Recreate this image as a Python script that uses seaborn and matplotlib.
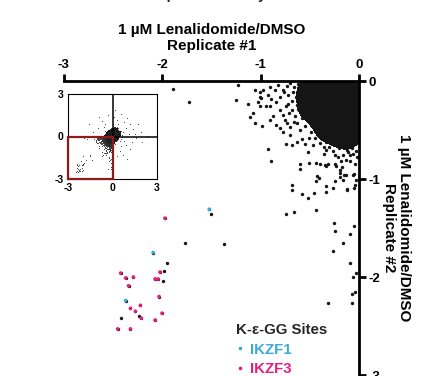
import numpy as np
import pandas as pd
import seaborn as sns
import matplotlib.pyplot as plt
from matplotlib.colors import ListedColormap
from matplotlib.patches import Rectangle

sns.set_theme(style="white")
plt.rcParams['font.family'] = ['Liberation Sans', 'DejaVu Sans']
plt.rcParams['font.weight'] = 'bold'
plt.rcParams['axes.unicode_minus'] = False

# log2 ratios (Lenalidomide/DMSO), replicate #1 vs replicate #2
core_sites = [
    (0.10, 0.12), (0.05, 0.18), (0.15, 0.05), (0.02, 0.08), (0.18, 0.20), (0.12, -0.02),
    (-0.03, 0.15), (0.22, 0.10), (0.08, 0.26), (0.00, -0.04), (0.25, 0.02), (-0.06, 0.02),
    (0.14, 0.30), (0.30, 0.18), (-0.08, 0.22), (0.04, -0.10), (0.20, -0.08), (-0.12, 0.10),
    (0.28, 0.28), (-0.02, 0.30), (0.10, -0.14), (-0.14, -0.04), (0.32, 0.06), (0.06, 0.36),
    (-0.10, -0.10), (0.18, 0.38), (0.36, 0.22), (-0.18, 0.18), (0.24, -0.16), (-0.04, -0.18),
    (-0.20, -0.12), (-0.16, -0.22), (-0.24, -0.02), (-0.08, -0.26), (-0.28, 0.08), (0.02, -0.30),
    (-0.26, -0.24), (-0.32, -0.10), (-0.12, -0.34), (-0.30, 0.22), (0.14, -0.32), (0.40, -0.02),
    (0.42, 0.30), (0.30, 0.42), (0.04, 0.46), (-0.14, 0.38), (-0.22, 0.32), (0.46, 0.12),
    (0.34, -0.20), (0.22, 0.50), (-0.36, -0.18), (-0.20, -0.36), (-0.38, 0.02), (-0.04, -0.40),
    (0.50, 0.22), (0.12, 0.54), (-0.30, -0.32), (-0.40, -0.08), (-0.10, -0.44), (0.26, -0.30),
    (-0.44, -0.22), (-0.26, -0.44), (-0.46, -0.02), (-0.02, -0.50), (-0.36, -0.38), (-0.48, -0.14),
    (-0.16, -0.52), (-0.42, -0.30), (-0.30, -0.50), (-0.52, -0.06), (-0.08, -0.56), (-0.50, -0.26),
    (-0.20, -0.58), (-0.40, -0.46), (-0.56, -0.18), (-0.12, -0.62), (-0.58, -0.04), (-0.34, -0.56),
    (-0.04, -0.64), (-0.54, -0.34), (0.56, 0.40), (0.62, 0.10), (0.40, 0.58), (-0.36, 0.42),
    (-0.44, 0.18), (0.60, -0.18), (0.10, 0.66), (-0.20, 0.54), (0.48, -0.34), (0.70, 0.30),
    (0.32, 0.70), (-0.48, 0.36), (0.20, -0.50), (0.66, -0.04), (-0.10, 0.60),
]

halo_sites = [
    (-0.62, -0.03), (-0.66, -0.06), (-0.60, -0.10), (-0.70, -0.02), (-0.56, -0.13), (-0.64, -0.16),
    (-0.59, -0.21), (-0.68, -0.20), (-0.55, -0.27), (-0.62, -0.29), (-0.52, -0.33), (-0.58, -0.38),
    (-0.50, -0.41), (-0.55, -0.46), (-0.46, -0.47), (-0.49, -0.52), (-0.42, -0.53), (-0.45, -0.58),
    (-0.37, -0.58), (-0.40, -0.63), (-0.33, -0.62), (-0.28, -0.60), (-0.30, -0.67), (-0.24, -0.64),
    (-0.20, -0.68), (-0.15, -0.66), (-0.12, -0.70), (-0.07, -0.68), (-0.03, -0.71), (-0.09, -0.75),
    (-0.26, -0.71), (-0.36, -0.67), (-0.51, -0.58), (-0.60, -0.50), (-0.66, -0.42), (-0.71, -0.33),
    (-0.74, -0.25), (-0.76, -0.11), (-0.73, -0.05), (-0.67, -0.11), (-0.63, -0.24), (-0.57, -0.05),
    (-0.53, -0.19), (-0.47, -0.37), (-0.44, -0.43), (-0.34, -0.52), (-0.22, -0.56), (-0.01, -0.60),
    (-0.06, -0.62), (-0.18, -0.63),
]

fringe_sites = [
    (-0.60, -0.85), (-0.60, -0.90), (-0.51, -0.84), (-0.44, -0.84), (-0.40, -0.85), (-0.35, -0.86),
    (-0.33, -0.87), (-0.31, -0.85), (-0.24, -0.85), (-0.17, -0.88), (-0.13, -0.81), (-0.09, -0.82),
    (-0.04, -0.85), (-0.43, -0.97), (-0.41, -0.99), (-0.44, -1.02), (-0.26, -1.09), (-0.24, -1.02),
    (-0.19, -0.98), (-0.16, -1.01), (-0.13, -0.96), (-0.05, -0.95), (-0.03, -1.01), (-0.05, -1.09),
    (-0.12, -1.10), (-0.19, -0.91), (-0.23, -0.87), (-0.36, -0.74), (-0.33, -0.70), (-0.24, -0.76),
    (-0.21, -0.78), (-0.16, -0.76), (-0.11, -0.72), (-0.06, -0.74), (-0.02, -0.78), (-0.52, -0.72),
    (-0.47, -0.65), (-0.55, -0.64), (-0.58, -0.59), (-0.63, -0.62), (-0.68, -0.65), (-0.74, -0.64),
    (-0.70, -0.55), (-0.77, -0.52), (-0.84, -0.45), (-0.80, -0.48), (-0.73, -0.43), (-0.90, -0.06),
    (-0.85, -0.09), (-0.92, -0.14), (-0.89, -0.18), (-0.84, -0.21), (-0.90, -0.25), (-0.94, -0.26),
    (-0.80, -0.30), (-0.77, -0.35), (-0.87, -0.36), (-0.90, -0.40), (-0.75, -0.40), (-0.82, -0.04),
    (-0.77, -0.09), (-0.72, -0.14), (-0.80, -0.16), (-0.72, -0.23), (-0.68, -0.30), (-0.65, -0.36),
    (-0.63, -0.43), (-0.70, -0.47), (-0.97, -0.09), (-1.01, -0.16), (-1.03, -0.21), (-1.01, -0.26),
    (-0.18, -0.82), (-0.15, -0.96), (-0.06, -0.96), (-0.04, -1.06), (-0.12, -1.11), (-0.19, -0.94),
]

tail_sites = [
    (-1.89, -0.08), (-1.73, -0.21), (-1.23, -0.04), (-1.25, -0.19), (-1.13, -0.23), (-1.08, -0.33),
    (-1.11, -0.37), (-1.06, -0.43), (-0.98, -0.46), (-1.06, -0.09), (-1.01, -0.11), (-0.99, -0.17),
    (-0.92, -0.69), (-0.89, -0.82), (-1.50, -1.36), (-0.74, -1.36), (-0.66, -1.34), (-0.44, -1.32),
    (-1.77, -1.65), (-1.37, -1.66), (-0.68, -1.06), (-0.68, -1.11), (-0.58, -1.15), (-0.52, -1.19),
    (-0.46, -1.14), (-0.34, -1.13), (-0.34, -1.07), (-0.25, -1.45), (-0.05, -1.48), (-0.24, -1.53),
    (-0.09, -1.56), (-0.16, -1.65), (-0.26, -1.73), (-0.09, -1.86), (-0.03, -1.96), (-0.06, -2.00),
    (-0.07, -2.17), (-0.31, -2.27), (-0.07, -2.27), (-0.04, -2.15), (-1.95, -1.86), (-1.98, -1.94),
    (-1.99, -2.04), (-2.42, -2.42), (-2.23, -2.40),
]

upper_sites = [
    (2.30, 0.05), (1.90, 0.30), (1.60, -0.10), (1.40, 0.50), (1.20, 0.90), (1.00, 1.30),
    (0.60, 1.60), (0.20, 1.90), (-0.30, 1.50), (-0.70, 1.10), (-1.00, 0.60), (-1.30, 0.30),
    (0.90, -0.60), (1.20, -0.90), (0.50, -1.00), (1.70, 0.90), (0.80, 1.00), (-0.50, 0.90),
    (0.30, 1.20), (1.50, 0.20), (-0.90, 1.40), (2.00, -0.40), (0.70, -1.30), (1.10, 0.20),
    (0.90, 0.60), (-0.60, 0.70), (0.40, 0.90), (1.30, -0.40), (-1.60, 0.90), (0.10, 1.40),
    (0.60, -0.70), (1.00, -1.60), (0.30, -1.40), (0.80, -0.30),
]

ikzf1_rep1 = [-1.52, -2.09, -2.37]
ikzf1_rep2 = [-1.31, -1.75, -2.24]
ikzf3_rep1 = [-1.97, -2.42, -2.37, -2.29, -2.34, -2.02, -2.07, -2.04, -2.03,
              -2.32, -2.22, -2.27, -2.21, -2.00, -2.07, -2.45, -2.32]
ikzf3_rep2 = [-1.40, -1.96, -2.01, -2.00, -2.09, -1.95, -2.02, -2.02, -2.20,
              -2.32, -2.29, -2.35, -2.42, -2.37, -2.44, -2.53, -2.53]

core = pd.DataFrame(core_sites, columns=['rep1', 'rep2'])
other = pd.DataFrame(core_sites + halo_sites + fringe_sites + tail_sites + upper_sites,
                     columns=['rep1', 'rep2'])
ikzf = pd.DataFrame({
    'rep1': ikzf1_rep1 + ikzf3_rep1,
    'rep2': ikzf1_rep2 + ikzf3_rep2,
    'site': ['IKZF1'] * len(ikzf1_rep1) + ['IKZF3'] * len(ikzf3_rep1),
})
all_sites = pd.concat([other, ikzf[['rep1', 'rep2']]], ignore_index=True)
rep1 = all_sites['rep1'].to_numpy(dtype=float)
rep2 = all_sites['rep2'].to_numpy(dtype=float)
core1 = core['rep1'].to_numpy(dtype=float)
core2 = core['rep2'].to_numpy(dtype=float)

ink = '#151515'
ink_cmap = ListedColormap([ink])
palette = {'IKZF1': '#3ba9d9', 'IKZF3': '#e2207f'}
title = '1 \u00b5M Lenalidomide/DMSO'
kde_levels = [0.24, 1]


def bulk_density(target):
    # saturated bulk of unchanged sites, shaded from their density
    sns.kdeplot(x=core1, y=core2, fill=True, levels=kde_levels, cmap=ink_cmap,
                bw_adjust=0.75, ax=target)


W, H = 421, 376
fig = plt.figure(figsize=(W / 100, H / 100), dpi=100)

# main panel: lower-left quadrant, axes on top and right
ax = fig.add_axes([63.5 / W, 1 - 375 / H, 295.5 / W, 294 / H])
bulk_density(ax)
sns.scatterplot(x=rep1, y=rep2, color=ink, s=6, linewidth=0, ax=ax,
                legend=False)
sns.scatterplot(data=ikzf, x='rep1', y='rep2', hue='site', palette=palette,
                hue_order=['IKZF1', 'IKZF3'], s=7, linewidth=0, ax=ax)
ax.set_xlim(-3, 0)
ax.set_ylim(-3, 0)
for side in ['left', 'bottom']:
    ax.spines[side].set_visible(False)
for side in ['top', 'right']:
    ax.spines[side].set_linewidth(2)
    ax.spines[side].set_color('black')
ax.xaxis.tick_top()
ax.yaxis.tick_right()
ax.set_xticks([-3, -2, -1, 0])
ax.set_yticks([-3, -2, -1, 0])
ax.tick_params(direction='out', length=5, width=2, labelsize=9.5, pad=2,
               colors='black')
ax.xaxis.set_label_position('top')
ax.set_xlabel(title + '\nReplicate #1', fontsize=11, fontweight='bold',
              labelpad=7, color='black', linespacing=1.1)
ax.yaxis.set_label_position('right')
ax.set_ylabel(title + '\nReplicate #2', fontsize=11, fontweight='bold',
              rotation=270, va='bottom', labelpad=1, color='black',
              linespacing=1.1)

sns.move_legend(ax, 'upper left', bbox_to_anchor=(236 / W, 1 - 323 / H),
                bbox_transform=fig.transFigure, title='K-\u03b5-GG Sites',
                frameon=False, borderpad=0, alignment='left', handlelength=0.5,
                handletextpad=0.45, labelspacing=0.38, borderaxespad=0,
                prop={'weight': 'bold', 'size': 10.8},
                title_fontproperties={'weight': 'bold', 'size': 10.8},
                labelcolor=[palette['IKZF1'], palette['IKZF3']])

# inset: full range with the zoomed quadrant outlined
ins = fig.add_axes([68 / W, 1 - 179 / H, 89 / W, 85 / H])
ins.set_facecolor('white')
bulk_density(ins)
sns.scatterplot(x=rep1, y=rep2, color='#333333', s=0.6, linewidth=0, ax=ins,
                legend=False)
ins.axhline(0, color='black', lw=1.1, zorder=3)
ins.axvline(0, color='black', lw=1.1, zorder=3)
ins.add_patch(Rectangle((-3, -3), 3, 3, fill=False, edgecolor='#8c1c1c',
                        lw=1.6, zorder=4, clip_on=False))
ins.set_xlim(-3, 3)
ins.set_ylim(-3, 3)
ins.set_xticks([-3, 0, 3])
ins.set_yticks([-3, 0, 3])
ins.tick_params(direction='out', length=2, width=0.8, labelsize=7.5, pad=1,
                colors='black')
for sp in ins.spines.values():
    sp.set_linewidth(0.8)
    sp.set_color('black')
ins.set_xlabel('')
ins.set_ylabel('')

# panel heading, cut by the top edge
fig.text(0.5, 1 + 0.5 / H, 'Comparative Analysis', ha='center',
         va='baseline', fontsize=10.5, fontweight='bold')

fig.savefig('out.png', dpi=100)
